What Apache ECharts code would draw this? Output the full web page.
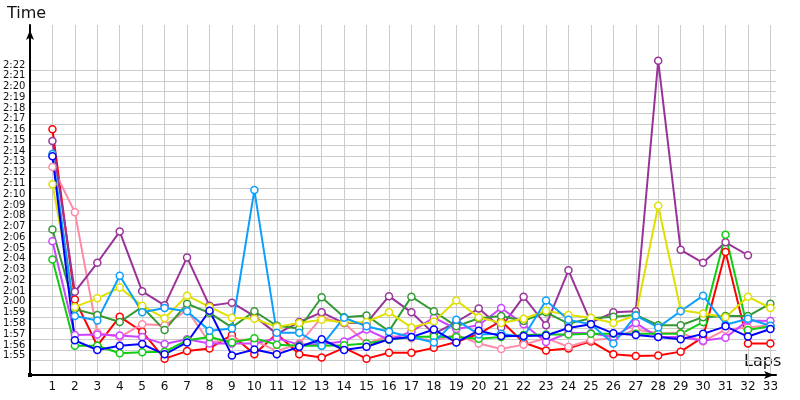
<!DOCTYPE html>
<html>
<head>
<meta charset="utf-8">
<script src="https://cdn.jsdelivr.net/npm/echarts@6/dist/echarts.min.js"></script>
<style>
html, body { margin: 0; padding: 0; background: #fff; }
#chart { width: 800px; height: 400px; }
</style>
</head>
<body>
<div id="chart"></div>
<script>
// lap numbers
var laps = [1,2,3,4,5,6,7,8,9,10,11,12,13,14,15,16,17,18,19,20,21,22,23,24,25,26,27,28,29,30,31,32,33];
// lap times in seconds (120 = 2:00)
var redTimes = [136.5,120.7,116.4,119.1,117.7,115.2,115.9,116.15,117.4,115.6,117.5,115.6,115.3,116.2,115.2,115.75,115.75,116.2,116.75,117.5,118.7,116.7,115.95,116.15,116.8,115.6,115.45,115.5,115.85,117.2,125.1,116.6,116.6];
var pinkTimes = [133.0,128.8,117.6,117.2,118.4,118.3,119.7,116.7,117.0,116.9,115.9,116.6,119.0,118.5,116.6,117.3,117.1,116.9,117.4,116.6,116.1,116.5,117.1,116.3,116.9,117.1,117.9,117.55,117.6,116.8,117.9,118.1,118.3];
var purpleTimes = [135.4,121.4,124.1,127.0,121.45,120.15,124.6,120.1,120.4,119.15,117.5,118.6,119.5,118.5,118.5,121.0,119.5,117.5,118.6,119.85,118.1,120.95,118.3,123.4,118.55,119.5,119.6,142.86,125.3,124.1,126.0,124.8,null];
var blueTimes = [134.0,116.9,116.0,116.4,116.55,115.6,116.7,119.65,115.5,116.05,115.6,116.3,117.0,116.0,116.3,117.0,117.2,117.9,116.7,117.8,117.3,117.3,117.35,118.05,118.4,117.55,117.4,117.2,117.0,117.5,118.2,117.25,117.95];
var skyTimes = [134.2,119.15,118.75,122.9,119.5,119.9,119.6,117.8,118.0,130.85,117.6,117.6,116.4,119.0,118.2,117.7,117.2,116.7,118.8,117.45,117.5,117.2,120.6,118.8,118.4,116.6,119.2,118.1,119.6,121.05,118.35,118.9,118.25];
var yellowTimes = [131.4,120.0,120.8,121.8,120.1,118.95,121.05,120.0,119.0,118.9,118.15,118.5,118.8,118.55,118.6,119.5,118.1,118.65,120.6,119.05,118.5,118.9,119.65,119.25,119.0,118.5,119.2,129.4,119.7,119.4,119.05,120.95,119.9];
var greenTimes = [124.4,116.4,116.4,115.7,115.8,115.85,116.9,117.2,116.7,117.1,116.5,116.4,116.4,116.45,116.6,116.95,117.2,117.25,117.2,117.05,117.2,117.4,117.45,117.45,117.5,117.5,117.5,117.5,117.5,118.6,126.7,117.85,118.2];
var darkGreenTimes = [127.2,119.8,119.25,118.6,120.0,117.85,120.3,119.45,118.1,119.6,118.25,118.0,120.9,119.05,119.2,117.75,120.95,119.6,118.2,118.95,119.15,118.7,119.5,118.45,118.95,119.1,119.25,118.3,118.3,119.05,119.15,119.15,120.3];
var violetTimes = [126.1,117.4,117.45,117.35,117.2,116.55,117.0,116.6,116.6,116.6,117.1,116.5,116.55,116.8,117.9,116.95,117.7,119.0,117.95,118.3,119.9,118.4,116.75,117.6,117.55,117.2,118.5,117.2,117.2,116.85,117.15,118.75,118.7];

// labelled range of the time axis (1:55 .. 2:22)
var tickMin = 115, tickMax = 142;

var lines = [
    {times: redTimes, color: '#ff0000'},
    {times: pinkTimes, color: '#ff8aa8'},
    {times: purpleTimes, color: '#993399'},
    {times: violetTimes, color: '#cc44ff'},
    {times: greenTimes, color: '#11cc11'},
    {times: darkGreenTimes, color: '#339933'},
    {times: yellowTimes, color: '#e0e000'},
    {times: skyTimes, color: '#0aa0ff'},
    {times: blueTimes, color: '#0000ff'}
];

function fmtTime(v) {
    var m = Math.floor(v / 60), s = Math.round(v - m * 60);
    return m + ':' + (s < 10 ? '0' + s : s);
}

var series = lines.map(function (l) {
    var data = [];
    laps.forEach(function (lap, i) {
        if (l.times[i] != null) data.push([lap, l.times[i]]);
    });
    return {
        type: 'line',
        xAxisIndex: 0,
        yAxisIndex: 0,
        data: data,
        clip: false,
        symbol: 'circle',
        symbolSize: 7,
        lineStyle: {color: l.color, width: 2},
        itemStyle: {color: '#fff', borderColor: l.color, borderWidth: 1.5}
    };
});

var myChart = echarts.init(document.getElementById('chart'));
var option = {
    animation: false,
    backgroundColor: '#fff',
    grid: [
        {left: 30, right: 24, top: 25, bottom: 25},
        {left: 30, right: 24, top: 70, bottom: 39.3}
    ],
    xAxis: [
        {
            gridIndex: 0,
            type: 'value',
            min: 0,
            max: 33.25,
            interval: 1,
            axisLine: {show: true, symbol: ['none', 'arrow'], symbolSize: [6, 10], symbolOffset: [0, -2],
                lineStyle: {color: '#000', width: 2}},
            axisTick: {show: false},
            axisLabel: {
                margin: 6,
                fontFamily: 'DejaVu Sans',
                fontSize: 12,
                color: '#111',
                formatter: function (v) { return (v >= 1 && v === Math.round(v)) ? String(v) : ''; }
            },
            splitLine: {show: true, showMinLine: false, showMaxLine: false, lineStyle: {color: '#cccccc', width: 1}}
        },
        {
            gridIndex: 1,
            type: 'value',
            min: 0,
            max: 33.25,
            show: false
        }
    ],
    yAxis: [
        {
            gridIndex: 0,
            type: 'value',
            min: 113.68,
            max: 146.18,
            axisLine: {show: true, symbol: ['none', 'arrow'], symbolSize: [6, 10], symbolOffset: [0, -5],
                lineStyle: {color: '#000', width: 2}},
            axisTick: {show: false},
            axisLabel: {show: false},
            splitLine: {show: false}
        },
        {
            gridIndex: 1,
            type: 'value',
            min: tickMin,
            max: tickMax,
            interval: 1,
            axisLine: {show: false},
            axisTick: {show: false},
            axisLabel: {
                align: 'left',
                margin: 27,
                verticalAlign: 'bottom',
                lineHeight: 10,
                fontFamily: 'DejaVu Sans',
                fontSize: 10,
                color: '#111',
                formatter: fmtTime
            },
            splitLine: {show: true, lineStyle: {color: '#cccccc', width: 1}}
        }
    ],
    graphic: [
        {type: 'text', left: 7, top: 6, style: {text: 'Time', fontFamily: 'DejaVu Sans', fontSize: 16, fill: '#111'}},
        {type: 'text', left: 744, top: 354, style: {text: 'Laps', fontFamily: 'DejaVu Sans', fontSize: 16, fill: '#111'}},
        {type: 'rect', shape: {x: 28, y: 373, width: 4, height: 4}, style: {fill: '#000'}}
    ],
    series: series
};
myChart.setOption(option);
</script>
</body>
</html>
